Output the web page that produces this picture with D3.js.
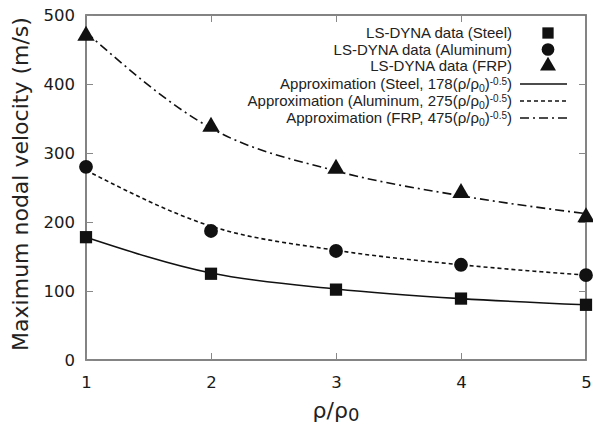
<!DOCTYPE html>
<html>
<head>
<meta charset="utf-8">
<script src="https://cdn.jsdelivr.net/npm/d3@7"></script>
<style>
  body { margin: 0; background: #fff; }
  svg text { fill: #222; }
</style>
</head>
<body>
<svg id="chart" width="593" height="436"></svg>
<script>
// density ratio and LS-DYNA data
const ratio = [1, 2, 3, 4, 5];
const steel = [178, 125, 102, 89, 80];
const aluminum = [280, 187, 158, 138, 123];
const frp = [470, 338, 277, 242, 207];

// approximation curves, values read at each ratio
const steelFit = [178, 126, 103, 89, 80];
const aluminumFit = [275, 194, 159, 138, 123];
const frpFit = [475, 336, 274, 238, 212];

const xTicks = [1, 2, 3, 4, 5];
const yTicks = [0, 100, 200, 300, 400, 500];

const svg = d3.select("#chart");
const plotLeft = 86, plotRight = 586, plotTop = 15, plotBottom = 360;

const x = d3.scaleLinear().domain([1, 5]).range([plotLeft, plotRight]);
const y = d3.scaleLinear().domain([0, 500]).range([plotBottom, plotTop]);

// frame
svg.append("rect")
    .attr("x", plotLeft).attr("y", plotTop)
    .attr("width", plotRight - plotLeft).attr("height", plotBottom - plotTop)
    .style("fill", "none").style("stroke", "#777").style("stroke-width", 1.8);

// axes with inward ticks
const axisStyle = g => {
    g.select(".domain").remove();
    g.selectAll(".tick line").style("stroke", "#888");
    g.selectAll("text").style("font-family", "DejaVu Sans").style("font-size", "16.5px")
        .style("fill", "#1a1a1a");
};
svg.append("g").attr("transform", `translate(0,${plotBottom})`)
    .call(d3.axisBottom(x).tickValues(xTicks).tickFormat(d3.format("d"))
        .tickSizeInner(-7).tickPadding(16))
    .call(axisStyle);
svg.append("g").attr("transform", `translate(${plotLeft},0)`)
    .call(d3.axisLeft(y).tickValues(yTicks).tickSizeInner(-7).tickPadding(11))
    .call(axisStyle);
// mirror ticks on top and right
svg.append("g").attr("transform", `translate(0,${plotTop})`)
    .call(d3.axisTop(x).tickValues(xTicks.slice(1, -1)).tickSizeInner(-7).tickFormat(""))
    .call(axisStyle);
svg.append("g").attr("transform", `translate(${plotRight},0)`)
    .call(d3.axisRight(y).tickValues(yTicks.slice(1, -1)).tickSizeInner(-7).tickFormat(""))
    .call(axisStyle);

// axis titles
svg.append("text")
    .attr("transform", `translate(28,184) rotate(-90)`)
    .attr("text-anchor", "middle")
    .style("font-family", "DejaVu Sans").style("font-size", "22px")
    .text("Maximum nodal velocity (m/s)");
const xl = svg.append("text")
    .attr("x", 336).attr("y", 418).attr("text-anchor", "middle")
    .style("font-family", "DejaVu Sans").style("font-size", "22px");
xl.append("tspan").text("ρ/ρ");
xl.append("tspan").attr("dy", 3).style("font-size", "18px").text("0");

// series
const series = [
    {name: "Steel", data: steel, fit: steelFit, coef: 178, dash: null, sym: d3.symbolSquare, size: 150},
    {name: "Aluminum", data: aluminum, fit: aluminumFit, coef: 275, dash: "4,3", sym: d3.symbolCircle, size: 150},
    {name: "FRP", data: frp, fit: frpFit, coef: 475, dash: "9,4,2,4", sym: d3.symbolTriangle, size: 130}
];

const line = d3.line()
    .x((d, i) => x(ratio[i]))
    .y(d => y(d))
    .curve(d3.curveMonotoneX);

series.forEach(s => {
    svg.append("path")
        .datum(s.fit)
        .attr("d", line)
        .style("fill", "none").style("stroke", "#111").style("stroke-width", 1.6)
        .style("stroke-dasharray", s.dash);
    svg.selectAll(null)
        .data(s.data)
        .join("path")
        .attr("transform", (d, i) => `translate(${x(ratio[i])},${y(d)})`)
        .attr("d", d3.symbol().type(s.sym).size(s.size))
        .style("fill", "#111");
});

// legend
const lg = svg.append("g").style("font-family", "Liberation Sans").style("font-size", "15px");
series.forEach((s, i) => {
    const yy = 33 + i * 16.5;
    lg.append("text").attr("x", 512).attr("y", yy + 5).attr("text-anchor", "end")
        .text(`LS-DYNA data (${s.name})`);
    lg.append("path")
        .attr("transform", `translate(548,${yy})`)
        .attr("d", d3.symbol().type(s.sym).size(s.size * 0.85))
        .style("fill", "#111");
});
series.forEach((s, i) => {
    const yy = 84 + i * 17;
    const t = lg.append("text").attr("x", 512).attr("y", yy + 5).attr("text-anchor", "end");
    t.append("tspan").text(`Approximation (${s.name}, ${s.coef}(ρ/ρ`);
    t.append("tspan").attr("dy", 3).style("font-size", "10.5px").text("0");
    t.append("tspan").attr("dy", -3).text(")");
    t.append("tspan").attr("dy", -4.5).style("font-size", "10px").text("-0.5");
    t.append("tspan").attr("dy", 4.5).text(")");
    lg.append("line")
        .attr("x1", 520).attr("x2", 567).attr("y1", yy).attr("y2", yy)
        .style("stroke", "#111").style("stroke-width", 1.6)
        .style("stroke-dasharray", s.dash);
});
</script>
</body>
</html>
